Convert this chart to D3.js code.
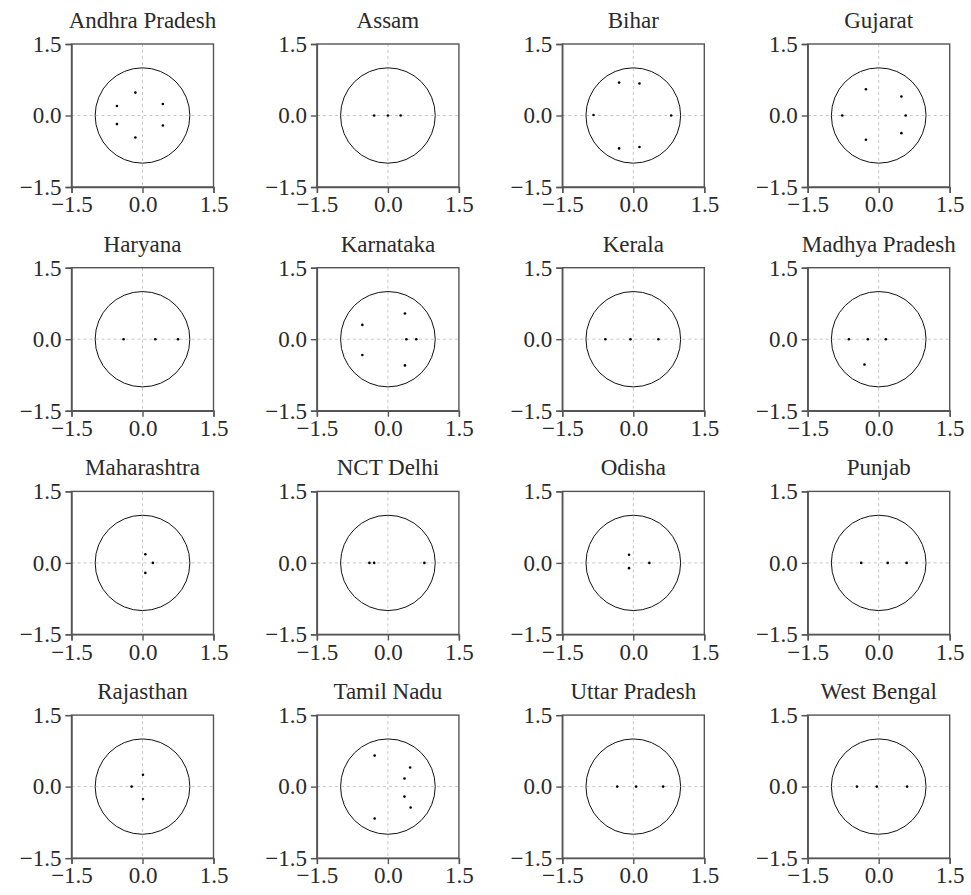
<!DOCTYPE html>
<html>
<head>
<meta charset="utf-8">
<script src="https://cdn.jsdelivr.net/npm/d3@7"></script>
<style>
  html, body { margin: 0; padding: 0; background: #fff; }
  svg text { font-family: "Liberation Serif", "DejaVu Serif", serif; fill: #2a2a2a; }
</style>
</head>
<body>
<svg id="chart" width="971" height="895"></svg>
<script>
// ---- data ----
const states = ["Andhra Pradesh", "Assam", "Bihar", "Gujarat",
                "Haryana", "Karnataka", "Kerala", "Madhya Pradesh",
                "Maharashtra", "NCT Delhi", "Odisha", "Punjab",
                "Rajasthan", "Tamil Nadu", "Uttar Pradesh", "West Bengal"];

// real parts of the plotted roots, per state
const rootsRe = [
  [-0.15, -0.15, 0.43, 0.43, -0.54, -0.54],
  [-0.29, 0.0, 0.27],
  [-0.30, -0.30, 0.13, 0.13, -0.84, 0.80],
  [-0.27, -0.27, 0.48, 0.48, -0.77, 0.57],
  [-0.40, 0.27, 0.75],
  [-0.54, -0.54, 0.36, 0.36, 0.39, 0.60],
  [-0.59, -0.06, 0.53],
  [-0.63, -0.23, 0.15, -0.30],
  [0.06, 0.06, 0.22],
  [-0.39, -0.29, 0.77],
  [-0.09, -0.09, 0.34],
  [-0.37, 0.19, 0.59],
  [0.01, 0.01, -0.23],
  [-0.28, -0.28, 0.47, 0.48, 0.35, 0.35],
  [-0.34, 0.06, 0.63],
  [-0.46, -0.04, 0.60]
];
// imaginary parts of the plotted roots, per state
const rootsIm = [
  [0.48, -0.46, 0.24, -0.21, 0.20, -0.18],
  [0, 0, 0],
  [0.69, -0.69, 0.67, -0.66, 0.01, 0],
  [0.55, -0.51, 0.40, -0.37, 0, 0],
  [0, 0, 0],
  [0.30, -0.33, 0.54, -0.55, 0, 0],
  [0, 0, 0],
  [0, 0, 0, -0.53],
  [0.18, -0.21, 0],
  [0, 0, 0],
  [0.17, -0.11, 0],
  [0, 0, 0],
  [0.25, -0.26, 0],
  [0.65, -0.67, 0.40, -0.44, 0.17, -0.21],
  [0, 0, 0],
  [0, 0, 0]
];

const tickValues = [-1.5, 0.0, 1.5];
const domainLim = [-1.5, 1.5];

// ---- layout ----
const svg = d3.select("#chart");
const nCols = 4;
const left0 = 71.5, colStep = 245.4;
const top0 = 44, rowStep = 223.7;
const pw = 142, ph = 143;

const x = d3.scaleLinear().domain(domainLim).range([0, pw]);
const y = d3.scaleLinear().domain(domainLim).range([ph, 0]);
const fmt = d3.format(".1f");
const minusFmt = v => fmt(v).replace("-", "\u2212");

states.forEach((name, i) => {
  const r = Math.floor(i / nCols), c = i % nCols;
  const g = svg.append("g")
    .attr("transform", `translate(${left0 + c * colStep},${top0 + r * rowStep})`);

  // grid lines at zero
  g.append("line")
    .attr("x1", x(0)).attr("x2", x(0)).attr("y1", 0).attr("y2", ph)
    .attr("stroke", "#c8c8c8").attr("stroke-width", 1).attr("stroke-dasharray", "3,3");
  g.append("line")
    .attr("x1", 0).attr("x2", pw).attr("y1", y(0)).attr("y2", y(0))
    .attr("stroke", "#c8c8c8").attr("stroke-width", 1).attr("stroke-dasharray", "3,3");

  // unit circle
  g.append("ellipse")
    .attr("cx", x(0)).attr("cy", y(0))
    .attr("rx", x(1) - x(0)).attr("ry", y(0) - y(1))
    .attr("fill", "none").attr("stroke", "#111").attr("stroke-width", 1);

  // roots
  const pts = rootsRe[i].map((re, k) => ({ re, im: rootsIm[i][k] }));
  g.selectAll("circle.pt").data(pts).enter().append("circle")
    .attr("class", "pt")
    .attr("cx", d => x(d.re)).attr("cy", d => y(d.im))
    .attr("r", 1.3).attr("fill", "#000");

  // frame (top & right)
  g.append("rect")
    .attr("x", 0).attr("y", 0).attr("width", pw).attr("height", ph)
    .attr("fill", "none").attr("stroke", "#555").attr("stroke-width", 1.4);

  // axes
  const xAxis = d3.axisBottom(x).tickValues(tickValues).tickFormat(minusFmt)
    .tickSize(6).tickPadding(3);
  const yAxis = d3.axisLeft(y).tickValues(tickValues).tickFormat(minusFmt)
    .tickSize(6).tickPadding(4);

  const gx = g.append("g").attr("transform", `translate(0,${ph})`).call(xAxis);
  const gy = g.append("g").call(yAxis);
  [gx, gy].forEach(a => {
    a.select(".domain").attr("stroke", "#555").attr("stroke-width", 1.4);
    a.selectAll(".tick line").attr("stroke", "#555").attr("stroke-width", 1.4);
    a.selectAll(".tick text").attr("font-size", 23).attr("fill", "#2a2a2a")
      .attr("font-family", "'Liberation Serif', serif");
  });

  // title
  g.append("text")
    .attr("x", pw / 2).attr("y", -16)
    .attr("text-anchor", "middle")
    .attr("font-size", 23)
    .text(name);
});
</script>
</body>
</html>
